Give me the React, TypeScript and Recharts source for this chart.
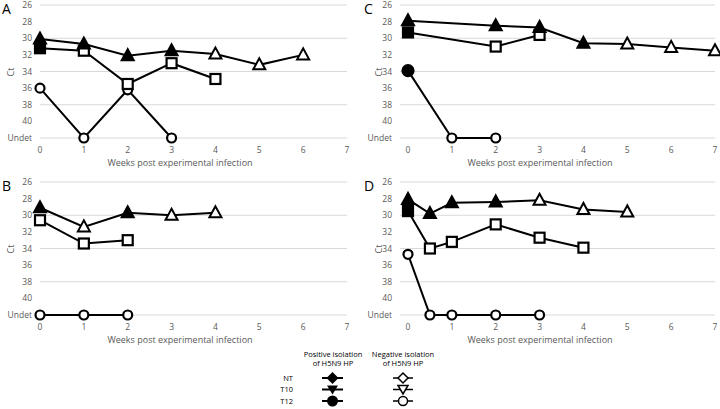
import { LineChart, Line, XAxis, YAxis, CartesianGrid } from "recharts";

// weeks post infection (x), Ct (y, 42 = "Undet"), pos = positive isolation (filled marker)
const weekTicks = [0, 1, 2, 3, 4, 5, 6, 7];
const ctTicks = [26, 28, 30, 32, 34, 36, 38, 40, 42];

// Panel A
const aTriWeeks = [0, 1, 2, 3, 4, 5, 6];
const aTriCt = [30.1, 30.7, 32.1, 31.5, 31.9, 33.2, 32.0];
const aTriPos = [1, 1, 1, 1, 0, 0, 0];
const aSqWeeks = [0, 1, 2, 3, 4];
const aSqCt = [31.2, 31.5, 35.5, 33.0, 34.9];
const aSqPos = [1, 0, 0, 0, 0];
const aCirWeeks = [0, 1, 2, 3];
const aCirCt = [36.0, 42, 36.2, 42];
const aCirPos = [0, 0, 0, 0];

// Panel B
const bTriWeeks = [0, 1, 2, 3, 4];
const bTriCt = [29.1, 31.4, 29.7, 30.0, 29.7];
const bTriPos = [1, 0, 1, 0, 0];
const bSqWeeks = [0, 1, 2];
const bSqCt = [30.6, 33.4, 33.0];
const bSqPos = [0, 0, 0];
const bCirWeeks = [0, 1, 2];
const bCirCt = [42, 42, 42];
const bCirPos = [0, 0, 0];

// Panel C
const cTriWeeks = [0, 2, 3, 4, 5, 6, 7];
const cTriCt = [27.9, 28.5, 28.7, 30.6, 30.7, 31.1, 31.5];
const cTriPos = [1, 1, 1, 1, 0, 0, 0];
const cSqWeeks = [0, 2, 3];
const cSqCt = [29.3, 31.0, 29.6];
const cSqPos = [1, 0, 0];
const cCirWeeks = [0, 1, 2];
const cCirCt = [33.9, 42, 42];
const cCirPos = [1, 0, 0];

// Panel D
const dTriWeeks = [0, 0.5, 1, 2, 3, 4, 5];
const dTriCt = [28.1, 29.8, 28.5, 28.4, 28.2, 29.3, 29.6];
const dTriPos = [1, 1, 1, 1, 0, 0, 0];
const dSqWeeks = [0, 0.5, 1, 2, 3, 4];
const dSqCt = [29.5, 34.0, 33.2, 31.1, 32.7, 33.9];
const dSqPos = [1, 0, 0, 0, 0, 0];
const dCirWeeks = [0, 0.5, 1, 2, 3];
const dCirCt = [34.7, 42, 42, 42, 42];
const dCirPos = [0, 0, 0, 0, 0];

const legendRows = ["NT", "T10", "T12"];

const font = "'Open Sans', sans-serif";
const grey = "#595959";

type Shape = "tri" | "sq" | "cir";

const pts = (weeks: number[], ct: number[], pos: number[]) =>
  weeks.map((w, i) => ({ week: w, ct: ct[i], pos: pos[i] }));

const drawMarker = (shape: Shape, cx: number, cy: number, filled: boolean, key?: any) => {
  const fill = filled ? "#000" : "#fff";
  if (shape === "tri")
    return (
      <polygon
        key={key}
        points={`${cx},${cy - 6.5} ${cx - 6},${cy + 4.5} ${cx + 6},${cy + 4.5}`}
        fill={fill}
        stroke="#000"
        strokeWidth={2}
      />
    );
  if (shape === "sq")
    return <rect key={key} x={cx - 5} y={cy - 5} width={10} height={10} fill={fill} stroke="#000" strokeWidth={2.2} />;
  return <circle key={key} cx={cx} cy={cy} r={filled ? 5.5 : 4.5} fill={fill} stroke="#000" strokeWidth={2.2} />;
};

const makeDot = (shape: Shape) => (props: any) => {
  const { cx, cy, payload, index } = props;
  if (cx == null || cy == null) return <g key={index} />;
  return drawMarker(shape, cx, cy, !!payload.pos, index);
};

const yFmt = (v: number) => (v === 42 ? "Undet" : String(v));

interface PanelProps {
  letter: string;
  left: number;
  top: number;
  padLeft: number;
  rightMargin: number;
  tri: any[];
  sq: any[];
  cir: any[];
}

const Panel = ({ letter, left, top, padLeft, rightMargin, tri, sq, cir }: PanelProps) => (
  <div style={{ position: "absolute", left, top, width: 360, height: 170 }}>
    <LineChart width={360} height={170} margin={{ top: 5, right: rightMargin, left: 0, bottom: 0 }}>
      <CartesianGrid vertical={false} stroke="#d9d9d9" strokeWidth={1} />
      <XAxis
        type="number"
        dataKey="week"
        domain={[0, 7]}
        ticks={weekTicks}
        axisLine={false}
        tickLine={false}
        height={32}
        tickMargin={3}
        padding={{ left: padLeft, right: 0 }}
        tick={{ fill: grey, fontSize: 8.5, fontFamily: font }}
        label={() => (
          <text x={180} y={166} textAnchor="middle" fill={grey} fontSize={9} fontFamily={font}>
            Weeks post experimental infection
          </text>
        )}
      />
      <YAxis
        type="number"
        reversed
        domain={[26, 42]}
        ticks={ctTicks}
        tickFormatter={yFmt}
        axisLine={false}
        tickLine={false}
        width={40}
        tickMargin={2}
        tick={{ fill: grey, fontSize: 8.5, fontFamily: font }}
        label={() => (
          <text
            x={padLeft ? 22 : 14}
            y={72}
            transform={`rotate(-90 ${padLeft ? 22 : 14} 72)`}
            textAnchor="middle"
            fill={grey}
            fontSize={9}
            fontFamily={font}
          >
            Ct
          </text>
        )}
      />
      <Line data={cir} dataKey="ct" type="linear" stroke="#000" strokeWidth={2} dot={makeDot("cir")} activeDot={false} isAnimationActive={false} />
      <Line data={sq} dataKey="ct" type="linear" stroke="#000" strokeWidth={2} dot={makeDot("sq")} activeDot={false} isAnimationActive={false} />
      <Line data={tri} dataKey="ct" type="linear" stroke="#000" strokeWidth={2} dot={makeDot("tri")} activeDot={false} isAnimationActive={false} />
    </LineChart>
    <div style={{ position: "absolute", left: padLeft ? 4 : 2, top: 2, fontFamily: font, fontSize: 14, lineHeight: "14px", color: "#000" }}>
      {letter}
    </div>
  </div>
);

const Legend = () => {
  const rowY = [378, 389.5, 401];
  return (
    <svg width={720} height={409} style={{ position: "absolute", left: 0, top: 0, pointerEvents: "none" }}>
      <g fontFamily={font} fontSize={7.5} fill="#000" textAnchor="middle">
        <text x={333} y={357}>Positive isolation</text>
        <text x={333} y={366}>of H5N9 HP</text>
        <text x={403} y={357}>Negative isolation</text>
        <text x={403} y={366}>of H5N9 HP</text>
      </g>
      {legendRows.map((lab, i) => (
        <g key={lab}>
          <text x={293} y={rowY[i] + 2.5} textAnchor="end" fontFamily={font} fontSize={7.5} fill="#000">
            {lab}
          </text>
          <line x1={322} x2={343} y1={rowY[i]} y2={rowY[i]} stroke="#000" strokeWidth={2} />
          <line x1={393} x2={413} y1={rowY[i]} y2={rowY[i]} stroke="#000" strokeWidth={1.5} />
          {i === 0 ? (
            <>
              <polygon points={`332.5,${rowY[i] - 6} 338.5,${rowY[i]} 332.5,${rowY[i] + 6} 326.5,${rowY[i]}`} fill="#000" />
              <polygon points={`403,${rowY[i] - 5} 408,${rowY[i]} 403,${rowY[i] + 5} 398,${rowY[i]}`} fill="#fff" stroke="#000" strokeWidth={1.5} />
            </>
          ) : i === 1 ? (
            <>
              <polygon points={`327,${rowY[i] - 4} 338,${rowY[i] - 4} 332.5,${rowY[i] + 5}`} fill="#000" />
              <polygon points={`398,${rowY[i] - 4} 408,${rowY[i] - 4} 403,${rowY[i] + 4.5}`} fill="#fff" stroke="#000" strokeWidth={1.5} />
            </>
          ) : (
            <>
              <circle cx={332.5} cy={rowY[i]} r={5.5} fill="#000" />
              <circle cx={403} cy={rowY[i]} r={4.5} fill="#fff" stroke="#000" strokeWidth={1.5} />
            </>
          )}
        </g>
      ))}
    </svg>
  );
};

export default function App() {
  return (
    <div style={{ position: "absolute", left: 0, top: 0, width: 720, height: 409, background: "#fff", overflow: "hidden" }}>
      <Panel letter="A" left={0} top={0} padLeft={0} rightMargin={13}
        tri={pts(aTriWeeks, aTriCt, aTriPos)} sq={pts(aSqWeeks, aSqCt, aSqPos)} cir={pts(aCirWeeks, aCirCt, aCirPos)} />
      <Panel letter="C" left={360} top={0} padLeft={8} rightMargin={5}
        tri={pts(cTriWeeks, cTriCt, cTriPos)} sq={pts(cSqWeeks, cSqCt, cSqPos)} cir={pts(cCirWeeks, cCirCt, cCirPos)} />
      <Panel letter="B" left={0} top={177} padLeft={0} rightMargin={13}
        tri={pts(bTriWeeks, bTriCt, bTriPos)} sq={pts(bSqWeeks, bSqCt, bSqPos)} cir={pts(bCirWeeks, bCirCt, bCirPos)} />
      <Panel letter="D" left={360} top={177} padLeft={8} rightMargin={5}
        tri={pts(dTriWeeks, dTriCt, dTriPos)} sq={pts(dSqWeeks, dSqCt, dSqPos)} cir={pts(dCirWeeks, dCirCt, dCirPos)} />
      <Legend />
    </div>
  );
}
